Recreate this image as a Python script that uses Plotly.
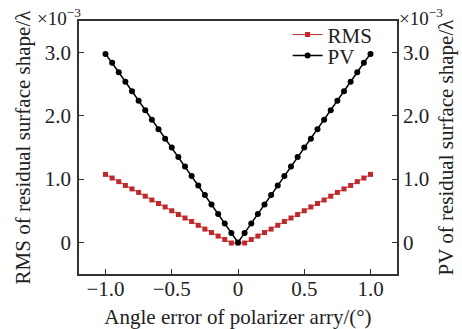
import plotly.graph_objects as go

angle = [round(-1 + 0.05 * i, 2) for i in range(41)]

rms_half = [-0.01, -0.01, 0.045, 0.10, 0.155, 0.21, 0.27, 0.33, 0.385, 0.44, 0.50,
            0.56, 0.615, 0.67, 0.73, 0.79, 0.845, 0.90, 0.96, 1.017, 1.075]
pv_half = [0.0, 0.15, 0.30, 0.45, 0.60, 0.75, 0.90, 1.05, 1.20, 1.35, 1.50,
           1.64, 1.79, 1.94, 2.09, 2.24, 2.39, 2.54, 2.69, 2.84, 2.98]
rms = rms_half[::-1] + rms_half[1:]
pv = pv_half[::-1] + pv_half[1:]

x_tickvals = [-1.0, -0.5, 0, 0.5, 1.0]
x_ticktext = ["\u22121.0", "\u22120.5", "0", "0.5", "1.0"]
y_tickvals = [0, 1, 2, 3]
y_ticktext = ["0", "1.0", "2.0", "3.0"]

FONT = "Liberation Serif, Times New Roman, serif"
AX = "#333333"
RED = "#c0282b"

fig = go.Figure()
fig.add_trace(go.Scatter(x=angle, y=rms, name="RMS", mode="lines+markers",
                         line=dict(color=RED, width=1),
                         marker=dict(symbol="square", size=5, color=RED),
                         legend="legend"))
fig.add_trace(go.Scatter(x=angle, y=pv, name="PV", mode="lines+markers",
                         line=dict(color="black", width=1.5),
                         marker=dict(symbol="circle", size=6, color="black"),
                         yaxis="y2", legend="legend2"))

axis_common = dict(showgrid=False, zeroline=False, showline=True, linecolor=AX,
                   linewidth=1.5, ticks="inside", ticklen=5, tickwidth=1.2,
                   tickcolor=AX, automargin=False,
                   tickfont=dict(family=FONT, size=21, color="#222"))

fig.update_layout(
    width=462, height=329,
    margin=dict(l=79, r=65, t=21, b=55),
    plot_bgcolor="white", paper_bgcolor="white",
    font=dict(family=FONT, size=21, color="#222"),
    xaxis=dict(range=[-1.2, 1.2], tickvals=x_tickvals, ticktext=x_ticktext,
               mirror=True, ticklabelstandoff=-5,
               title=dict(text="Angle error of polarizer arry/(°)",
                          font=dict(family=FONT, size=21), standoff=12),
               **axis_common),
    yaxis=dict(range=[-0.5, 3.5], tickvals=y_tickvals, ticktext=y_ticktext,
               ticklabelstandoff=2,
               title=dict(text="RMS of residual surface shape/λ",
                          font=dict(family=FONT, size=21), standoff=8),
               **axis_common),
    yaxis2=dict(range=[-0.5, 3.5], tickvals=y_tickvals, ticktext=y_ticktext,
                overlaying="y", side="right", ticklabelstandoff=0,
                title=dict(text="PV of residual surface shape/λ",
                           font=dict(family=FONT, size=21), standoff=10),
                **axis_common),
    legend=dict(x=0.656, y=0.945, xanchor="left", yanchor="middle",
                bgcolor="rgba(0,0,0,0)", font=dict(family=FONT, size=21),
                itemwidth=30, borderwidth=0),
    legend2=dict(x=0.656, y=0.862, xanchor="left", yanchor="middle",
                 bgcolor="rgba(0,0,0,0)", font=dict(family=FONT, size=21),
                 itemwidth=30, borderwidth=0),
    showlegend=True,
    annotations=[
        dict(text="×10<sup>−3</sup>", xref="paper", yref="paper",
             x=-0.138, y=1.072, xanchor="left", yanchor="top", showarrow=False,
             font=dict(family=FONT, size=19, color="#222")),
        dict(text="×10<sup>−3</sup>", xref="paper", yref="paper",
             x=1.001, y=1.072, xanchor="left", yanchor="top", showarrow=False,
             font=dict(family=FONT, size=19, color="#222")),
    ],
)

fig.write_html("out.html", config={"displayModeBar": False},
               post_script="document.body.style.margin='0';document.body.style.overflow='hidden';")
